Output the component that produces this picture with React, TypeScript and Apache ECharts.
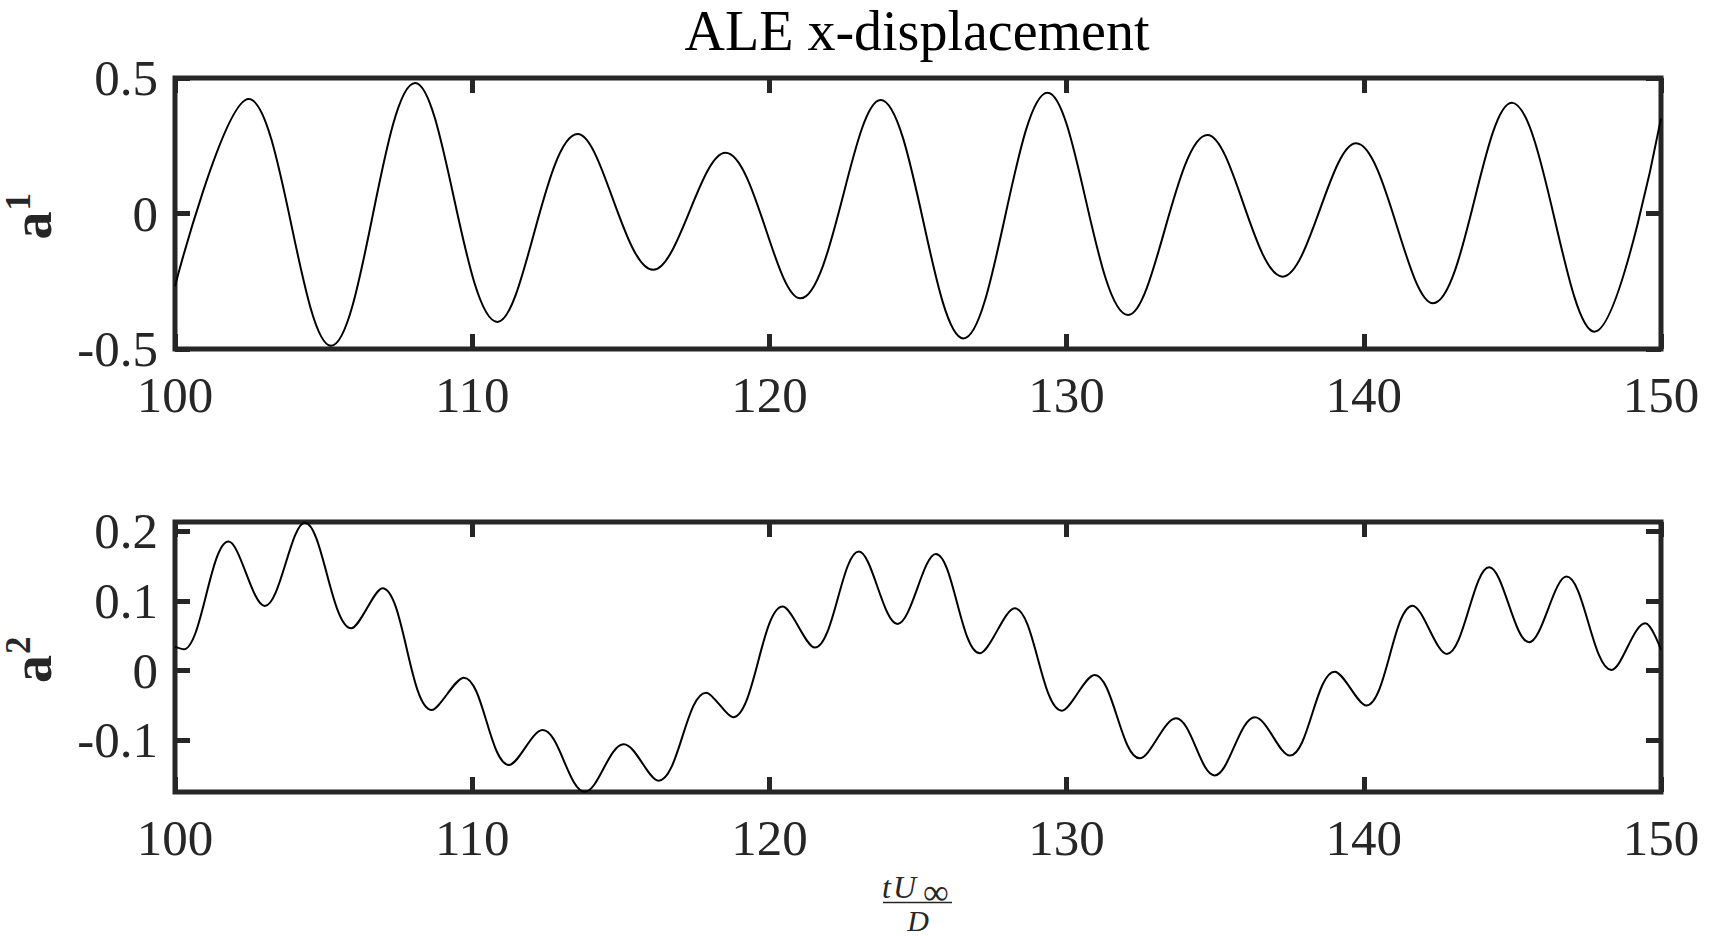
import React, { useEffect, useRef } from "react";
import * as echarts from "echarts";

// ---- data (turning points of each curve) ----
const xTicks = [100, 110, 120, 130, 140, 150];
const a1Ticks = [-0.5, 0, 0.5];
const a2Ticks = [-0.1, 0, 0.1, 0.2];

const a1T = [100, 102.48, 105.25, 108.08, 110.85, 113.55, 116.09, 118.52, 121.04, 123.74, 126.53, 129.36, 132.07, 134.74, 137.27, 139.74, 142.33, 144.98, 147.76, 150];
const a1V = [-0.268, 0.4225, -0.488, 0.4815, -0.4, 0.293, -0.208, 0.224, -0.313, 0.419, -0.461, 0.446, -0.3745, 0.2897, -0.233, 0.259, -0.331, 0.409, -0.436, 0.351];

const a2T = [100, 100.29, 101.8, 103.02, 104.37, 105.93, 106.98, 108.64, 109.72, 111.24, 112.37, 113.79, 115.1, 116.27, 117.87, 118.77, 120.45, 121.53, 123.01, 124.31, 125.6, 127.08, 128.25, 129.84, 130.94, 132.46, 133.68, 134.98, 136.34, 137.51, 139.02, 140.08, 141.64, 142.79, 144.22, 145.56, 146.82, 148.33, 149.47, 150];
const a2V = [0.0344, 0.0306, 0.1848, 0.0927, 0.212, 0.0607, 0.118, -0.0563, -0.01, -0.135, -0.085, -0.1735, -0.1055, -0.1576, -0.0315, -0.0668, 0.0917, 0.033, 0.1705, 0.0669, 0.1672, 0.0249, 0.0894, -0.0573, -0.0062, -0.1255, -0.0682, -0.15, -0.0668, -0.1217, -0.0014, -0.05, 0.0931, 0.0239, 0.148, 0.0407, 0.1347, 0.001, 0.0679, 0.0297];

const a1Range = [-0.5, 0.5];
const a2Range = [-0.1738, 0.2129];

const AX = "#262626";
const FONT = "Liberation Serif";

function xAxisDef(gridIndex: number, position: string, labels: boolean) {
  return {
    type: "value",
    gridIndex,
    position,
    min: xTicks[0],
    max: xTicks[xTicks.length - 1],
    interval: 10,
    axisLine: { show: false, onZero: false },
    axisTick: { show: true, inside: true, length: 15, lineStyle: { color: AX, width: 5 } },
    axisLabel: {
      show: labels,
      margin: 46,
      verticalAlign: "middle",
      color: AX,
      fontFamily: FONT,
      fontSize: 51,
    },
    splitLine: { show: false },
  };
}

function yAxisDef(gridIndex: number, position: string, labels: boolean, range: number[], ticks: number[]) {
  return {
    type: "value",
    gridIndex,
    position,
    min: range[0],
    max: range[1],
    axisLine: { show: false, onZero: false },
    axisTick: { show: true, inside: true, length: 15, customValues: ticks, lineStyle: { color: AX, width: 5 } },
    axisLabel: {
      show: labels,
      customValues: ticks,
      margin: 17,
      color: AX,
      fontFamily: FONT,
      fontSize: 51,
    },
    splitLine: { show: false },
  };
}

function yName(y0: number, sup: string) {
  return {
    type: "group",
    x: 0,
    y: y0,
    rotation: Math.PI / 2,
    children: [
      {
        type: "text",
        x: 0,
        y: 32.4,
        style: { text: "a", font: `bold 56px "${FONT}"`, fill: AX, align: "left", verticalAlign: "middle", textAlign: "left", textVerticalAlign: "middle" },
      },
      {
        type: "text",
        x: 29,
        y: 18.2,
        style: { text: sup, font: `bold 35px "${FONT}"`, fill: AX, align: "left", verticalAlign: "middle", textAlign: "left", textVerticalAlign: "middle" },
      },
    ],
  };
}

function txt(x: number, y: number, text: string, font: string, align = "left") {
  return {
    type: "text",
    x,
    y,
    style: { text, font, fill: AX, align, verticalAlign: "middle", textAlign: align, textVerticalAlign: "middle" },
  };
}

export default function App() {
  const ref = useRef<HTMLDivElement>(null);
  useEffect(() => {
    document.body.style.margin = "0";
    if (!ref.current) return;
    const chart = echarts.init(ref.current, null, { renderer: "svg" });
    const lineSeries = (xi: number, yi: number, t: number[], v: number[]) => ({
      type: "line",
      xAxisIndex: xi,
      yAxisIndex: yi,
      data: t.map((x, i) => [x, v[i]]),
      showSymbol: false,
      smooth: 0.36,
      clip: true,
      lineStyle: { color: "#000", width: 2 },
    });
    const option: any = {
      animation: false,
      backgroundColor: "#ffffff",
      grid: [
        { left: 175, top: 78, width: 1486, height: 271, show: true, borderColor: AX, borderWidth: 5, backgroundColor: "transparent" },
        { left: 175, top: 522, width: 1486, height: 270, show: true, borderColor: AX, borderWidth: 5, backgroundColor: "transparent" },
      ],
      xAxis: [
        xAxisDef(0, "bottom", true),
        xAxisDef(0, "top", false),
        xAxisDef(1, "bottom", true),
        xAxisDef(1, "top", false),
      ],
      yAxis: [
        yAxisDef(0, "left", true, a1Range, a1Ticks),
        yAxisDef(0, "right", false, a1Range, a1Ticks),
        yAxisDef(1, "left", true, a2Range, a2Ticks),
        yAxisDef(1, "right", false, a2Range, a2Ticks),
      ],
      series: [lineSeries(0, 0, a1T, a1V), lineSeries(2, 2, a2T, a2V)],
      graphic: [
        {
          type: "text",
          x: 917,
          y: 30.5,
          style: { text: "ALE x-displacement", font: `56px "${FONT}"`, fill: "#000", align: "center", verticalAlign: "middle", textAlign: "center", textVerticalAlign: "middle" },
        },
        yName(239.5, "1"),
        yName(683, "2"),
        txt(882, 886.6, "t", `italic 32px "${FONT}"`),
        txt(893, 886.6, "U", `italic 32px "${FONT}"`),
        txt(923, 892, "\u221E", `36px "${FONT}"`),
        {
          type: "line",
          shape: { x1: 883, y1: 902.5, x2: 952, y2: 902.5 },
          style: { stroke: AX, lineWidth: 1.6 },
        },
        txt(918, 920.5, "D", `italic 30px "${FONT}"`, "center"),
      ],
    };
    chart.setOption(option);
    return () => chart.dispose();
  }, []);
  return <div ref={ref} style={{ width: 1712, height: 936 }} />;
}
